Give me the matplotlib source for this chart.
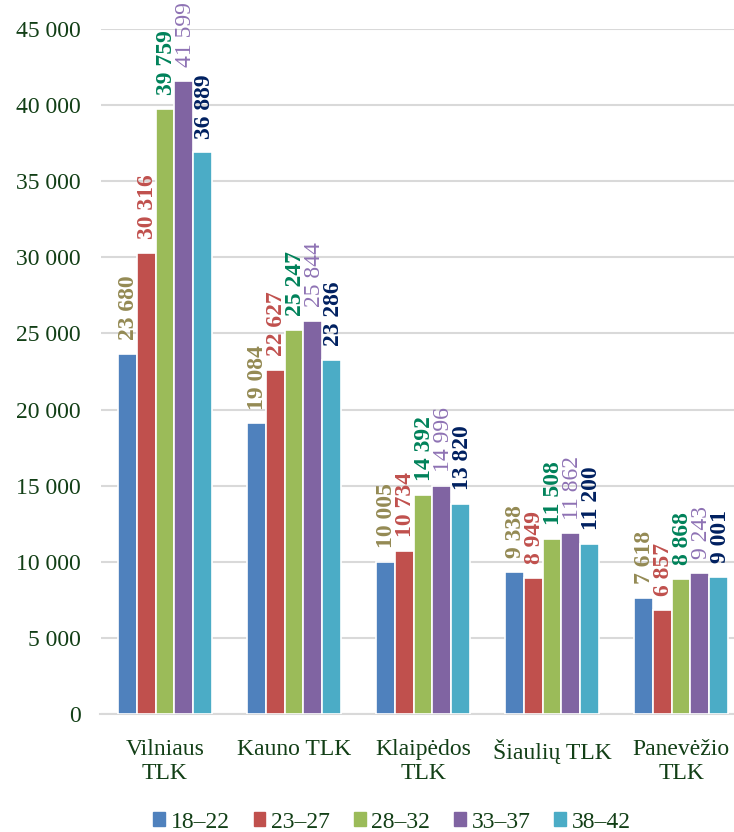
import numpy as np
import matplotlib.pyplot as plt
from matplotlib.patches import Patch

# ─────────────────────────────────────────
# DATOS
# ─────────────────────────────────────────
categorias = ['Vilniaus\nTLK', 'Kauno TLK', 'Klaipėdos\nTLK', 'Šiaulių TLK', 'Panevėžio\nTLK']
grupos = ['18–22', '23–27', '28–32', '33–37', '38–42']

v_18_22 = [23680, 19084, 10005, 9338, 7618]
v_23_27 = [30316, 22627, 10734, 8949, 6857]
v_28_32 = [39759, 25247, 14392, 11508, 8868]
v_33_37 = [41599, 25844, 14996, 11862, 9243]
v_38_42 = [36889, 23286, 13820, 11200, 9001]

series = [v_18_22, v_23_27, v_28_32, v_33_37, v_38_42]
yticks = list(range(0, 45001, 5000))

col_barras = ['#4F81BD', '#C0504D', '#9BBB59', '#8064A2', '#4BACC6']
col_etiq = ['#948A54', '#C0504D', '#00825A', '#8E72B4', '#002060']
peso_etiq = ['bold', 'bold', 'bold', 'normal', 'bold']
col_texto = '#123F16'

plt.rcParams['font.family'] = ['Liberation Serif', 'DejaVu Serif']

fig = plt.figure(figsize=(7.34, 8.32), dpi=100)
ax = fig.add_axes([100.5 / 734, 1 - 714 / 832, 645 / 734, (714 - 29) / 832])

x = np.arange(len(categorias))
ancho = 0.147
for i, vals in enumerate(series):
    pos = x + (i - 2) * ancho
    ax.bar(pos, vals, width=ancho, color=col_barras[i], edgecolor='white',
           linewidth=1.2, zorder=3, label=grupos[i])
    for xp, v in zip(pos, vals):
        etiqueta = f"{v:,}".replace(',', ' ')
        ax.annotate(etiqueta, (xp, v), xytext=(1, 10), textcoords='offset points',
                    rotation=90, ha='center', va='bottom', fontsize=17,
                    color=col_etiq[i], fontweight=peso_etiq[i],
                    annotation_clip=False)

ax.set_xlim(-0.5, len(categorias) - 0.5)
ax.set_ylim(0, 45000)
ax.set_yticks(yticks)
ax.set_yticklabels([f"{t:,}".replace(',', ' ') for t in yticks])
ax.set_xticks(x)
ax.set_xticklabels(categorias, linespacing=1.2)
ax.tick_params(axis='both', length=0, labelsize=17, colors=col_texto)
ax.tick_params(axis='x', pad=18)
ax.tick_params(axis='y', pad=14)

ax.grid(axis='y', color='#D9D9D9', linewidth=1.5, zorder=0)
ax.spines[['top', 'right', 'left']].set_visible(False)
ax.spines['bottom'].set_color('#D9D9D9')
ax.spines['bottom'].set_linewidth(1.5)

handles = [Patch(color=c, label=g) for c, g in zip(col_barras, grupos)]
fig.legend(handles=handles, loc='center', bbox_to_anchor=(392 / 734, 1 - 822 / 832),
           ncol=5, frameon=False, fontsize=17, handlelength=0.5, handleheight=0.5,
           handletextpad=0.25, columnspacing=1.0, labelcolor=col_texto)

fig.savefig('out.png', dpi=100)
